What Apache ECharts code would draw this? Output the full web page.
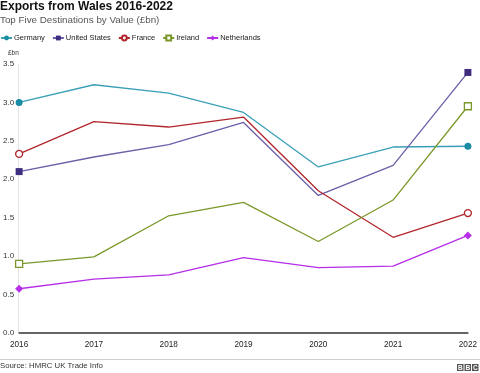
<!DOCTYPE html>
<html><head><meta charset="utf-8">
<script src="https://cdn.jsdelivr.net/npm/echarts@6/dist/echarts.min.js"></script>
<style>html,body{margin:0;padding:0;background:#fff}#c{width:480px;height:373px}</style>
</head><body><div id="c"></div>
<script>
const years = ['2016','2017','2018','2019','2020','2021','2022'];
const germany = [3.00, 3.23, 3.12, 2.87, 2.16, 2.42, 2.43];
const unitedStates = [2.10, 2.29, 2.45, 2.74, 1.79, 2.18, 3.39];
const france = [2.33, 2.75, 2.68, 2.81, 1.85, 1.245, 1.56];
const ireland = [0.90, 0.99, 1.525, 1.70, 1.19, 1.73, 2.95];
const netherlands = [0.576, 0.70, 0.755, 0.98, 0.85, 0.87, 1.27];

const font = 'Liberation Sans, Arial, sans-serif';
function endSize(s){ return function(v, p){ return (p.dataIndex===0 || p.dataIndex===years.length-1) ? s : 0; }; }
function mk(name, data, color, lineColor, symbol, size, hollow){
  return {
    name, type:'line', data, symbol, symbolSize:endSize(size), showSymbol:true,
    lineStyle:{color:lineColor, width:1.3},
    itemStyle:{color: hollow ? '#fff' : color, borderColor: color, borderWidth: hollow?1.3:0},
    emphasis:{disabled:true}, z: 2
  };
}
const chart = echarts.init(document.getElementById('c'), null, {renderer:'canvas'});
chart.setOption({
  animation:false,
  textStyle:{fontFamily:font},
  title:[
    {text:'Exports from Wales 2016-2022', left:0, top:1, padding:0,
     textStyle:{fontSize:12, fontWeight:'bold', color:'#111', fontFamily:font}},
    {text:'Top Five Destinations by Value (£bn)', left:0, top:15, padding:0,
     textStyle:{fontSize:9.8, fontWeight:'normal', color:'#555', fontFamily:font}},
    {text:'£bn', left:8, top:50, padding:0,
     textStyle:{fontSize:6.5, fontWeight:'normal', color:'#333', fontFamily:font}},
    {text:'Source: HMRC UK Trade Info', left:0, top:362, padding:0,
     textStyle:{fontSize:7.8, fontWeight:'normal', color:'#333', fontFamily:font}}
  ],
  legend:{
    left:0, top:34, itemGap:7, itemWidth:11, itemHeight:6, padding:0,
    textStyle:{fontSize:7.5, color:'#222', fontFamily:font, padding:[0,0,0,-3]},
    data:['Germany','United States','France','Ireland','Netherlands']
  },
  grid:{left:18, right:9, top:64, bottom:40, containLabel:false},
  xAxis:{
    type:'category', data:years, boundaryGap:false,
    axisLine:{lineStyle:{color:'#333', width:1.5}},
    axisTick:{show:false},
    axisLabel:{fontSize:8.2, color:'#222', margin:8, fontFamily:font},
    splitLine:{show:false}
  },
  yAxis:{
    type:'value', min:0, max:3.5, interval:0.5,
    axisLine:{show:false},
    axisTick:{show:false},
    axisLabel:{fontSize:8, color:'#333', margin:5, fontFamily:font, formatter:v=>v.toFixed(1)},
    splitLine:{show:false}
  },
  series:[
    mk('Germany', germany, '#1a8ba4', '#3aa0b8', 'circle', 7, false),
    mk('United States', unitedStates, '#3e2c7e', '#6a5fa8', 'rect', 7, false),
    mk('France', france, '#b1262c', '#b1262c', 'circle', 7, true),
    mk('Ireland', ireland, '#7a982a', '#7a982a', 'rect', 7, true),
    mk('Netherlands', netherlands, '#b52ee8', '#b52ee8', 'diamond', 8, false)
  ],
  graphic:[
    {type:'line', shape:{x1:18.5,y1:64,x2:18.5,y2:333}, style:{stroke:'#e2e2e2', lineWidth:1}, z:0},
    {type:'line', shape:{x1:0,y1:359.5,x2:480,y2:359.5}, style:{stroke:'#cfcfcf', lineWidth:1}},
    {type:'group', left:457, top:364, children:[
      {type:'rect', shape:{x:0,y:0,width:6.5,height:7}, style:{fill:'#555'}},
      {type:'rect', shape:{x:7.5,y:0,width:6.5,height:7}, style:{fill:'#555'}},
      {type:'rect', shape:{x:15,y:0,width:6.5,height:7}, style:{fill:'#555'}},
      {type:'text', x:3.25, y:0.5, style:{text:'B', fill:'#fff', fontSize:6.5, fontWeight:'bold', align:'center', fontFamily:font}},
      {type:'text', x:10.75, y:0.5, style:{text:'B', fill:'#fff', fontSize:6.5, fontWeight:'bold', align:'center', fontFamily:font}},
      {type:'text', x:18.25, y:0.5, style:{text:'C', fill:'#fff', fontSize:6.5, fontWeight:'bold', align:'center', fontFamily:font}}
    ]}
  ]
});
</script></body></html>
